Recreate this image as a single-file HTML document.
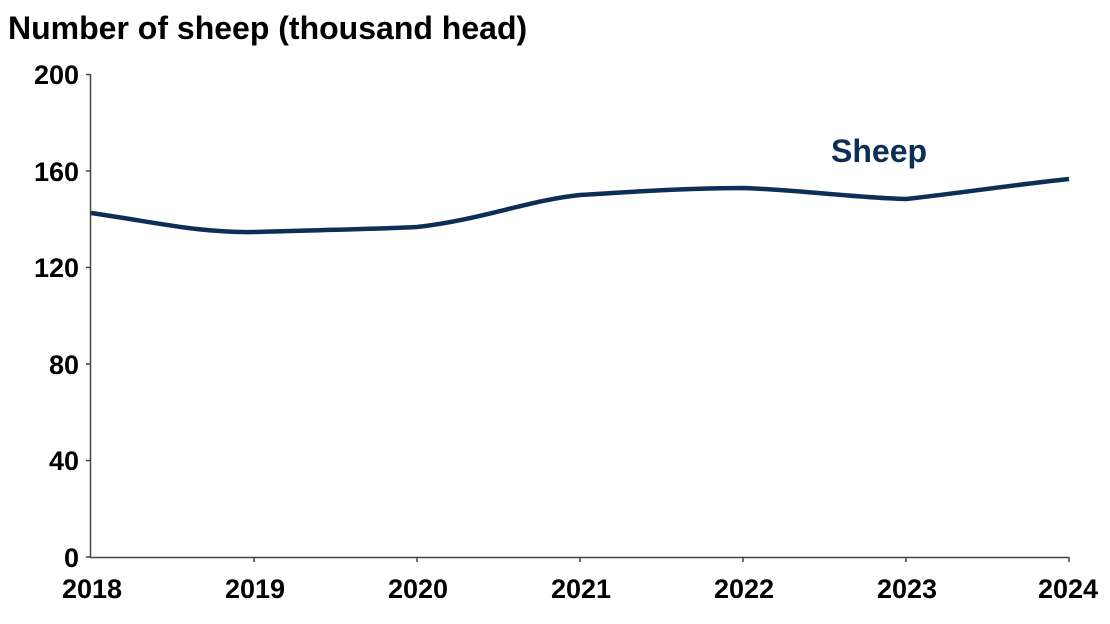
<!DOCTYPE html>
<html><head><style>body{margin:0;background:#fff}svg{display:block}</style></head><body>
<svg width="1110" height="624" xmlns="http://www.w3.org/2000/svg" font-family="Liberation Sans, sans-serif" font-weight="bold">
<text x="8" y="39" font-size="32" fill="#000">Number of sheep (thousand head)</text>
<g stroke="#444" stroke-width="1.5">
<line x1="90.5" y1="74" x2="90.5" y2="557"/>
<line x1="90" y1="557.5" x2="1069" y2="557.5"/>
<line x1="86" y1="74.5" x2="90" y2="74.5"/><line x1="86" y1="171" x2="90" y2="171"/><line x1="86" y1="267.5" x2="90" y2="267.5"/><line x1="86" y1="364" x2="90" y2="364"/><line x1="86" y1="460.5" x2="90" y2="460.5"/><line x1="86" y1="557" x2="90" y2="557"/>
<line x1="254" y1="557" x2="254" y2="562"/><line x1="417" y1="557" x2="417" y2="562"/><line x1="580" y1="557" x2="580" y2="562"/><line x1="743" y1="557" x2="743" y2="562"/><line x1="906" y1="557" x2="906" y2="562"/><line x1="1069" y1="557" x2="1069" y2="562"/>
</g>
<g font-size="27" text-anchor="end" fill="#000">
<text x="79" y="84">200</text><text x="79" y="181">160</text><text x="79" y="277">120</text><text x="79" y="374">80</text><text x="79" y="470">40</text><text x="79" y="567">0</text>
</g>
<g font-size="27" text-anchor="middle" fill="#000">
<text x="92" y="598">2018</text><text x="255" y="598">2019</text><text x="418" y="598">2020</text><text x="581" y="598">2021</text><text x="744" y="598">2022</text><text x="907" y="598">2023</text><text x="1068" y="598">2024</text>
</g>
<path d="M91,213 C160,223 200,233 254,232 C320,230 380,229 417,227 C480,220 530,200 580,195 C640,191 700,188 743,188 C800,190 860,198 906,199 C960,193 1020,184 1069,179" fill="none" stroke="#0d2f57" stroke-width="4.5"/>
<text x="831" y="162" font-size="32" fill="#0d2f57">Sheep</text>
</svg>
</body></html>
